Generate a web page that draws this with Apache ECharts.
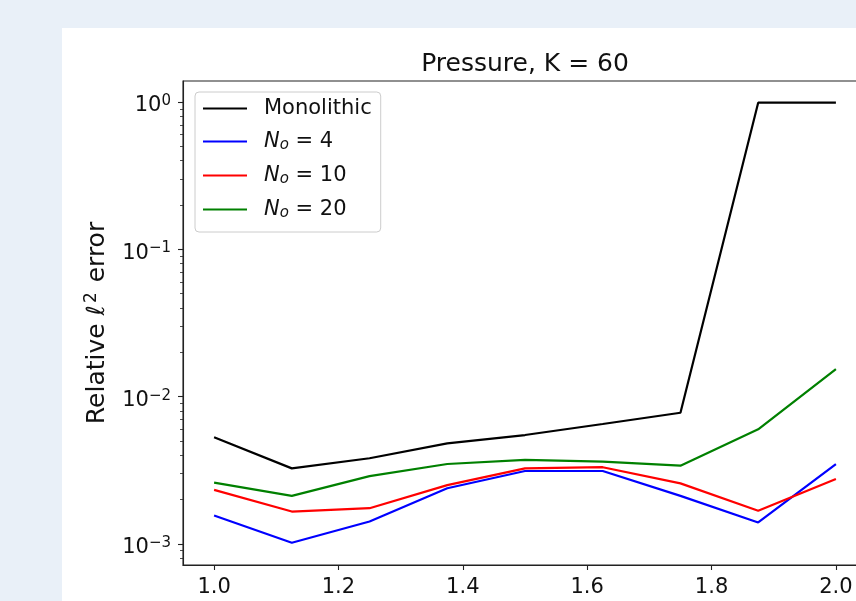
<!DOCTYPE html>
<html><head><meta charset="utf-8">
<script src="https://cdn.jsdelivr.net/npm/echarts@6/dist/echarts.min.js"></script>
<style>html,body{margin:0;padding:0;background:#e9f0f8;overflow:hidden}#c{width:856px;height:601px}</style>
</head><body><div id="c"></div>
<script>
// ---- data ----
const xValues = [1.0, 1.125, 1.25, 1.375, 1.5, 1.625, 1.75, 1.875, 2.0];
const monolithic = [0.00530, 0.00326, 0.00382, 0.00482, 0.00549, 0.00652, 0.00778, 0.99, 0.99];
const no4  = [0.00156, 0.00102, 0.00142, 0.00239, 0.00313, 0.00313, 0.00212, 0.00140, 0.00349];
const no10 = [0.00233, 0.00166, 0.00175, 0.00251, 0.00326, 0.00332, 0.00258, 0.00168, 0.00276];
const no20 = [0.00261, 0.00212, 0.00289, 0.00349, 0.00372, 0.00362, 0.00340, 0.00600, 0.0154];
const xTicks = [1.0, 1.2, 1.4, 1.6, 1.8, 2.0];
const yMajorTicks = [0.001, 0.01, 0.1, 1];
const yMinorTicks = [0.0008, 0.0009,
  0.002, 0.003, 0.004, 0.005, 0.006, 0.007, 0.008, 0.009,
  0.02, 0.03, 0.04, 0.05, 0.06, 0.07, 0.08, 0.09,
  0.2, 0.3, 0.4, 0.5, 0.6, 0.7, 0.8, 0.9];
const seriesNames = ['Monolithic', 'N_o = 4', 'N_o = 10', 'N_o = 20'];
const seriesColors = ['#000000', '#0000ff', '#ff0000', '#008000'];
const seriesValues = [monolithic, no4, no10, no20];

const FONT = 'DejaVu Sans';
const TXT = '#111';
const yMin = Math.pow(10, -3.1426), yMax = Math.pow(10, 0.1426);

const chart = echarts.init(document.getElementById('c'), null, {renderer: 'canvas'});
const legendRich = {
  n: {fontFamily: FONT, fontSize: 21, fontStyle: 'italic', color: TXT},
  o: {fontFamily: FONT, fontSize: 15, fontStyle: 'italic', color: TXT, padding: [8, 0, 0, 0]},
  t: {fontFamily: FONT, fontSize: 21, color: TXT}
};
chart.setOption({
  animation: false,
  graphic: [{type: 'rect', left: 62, top: 28, shape: {width: 900, height: 700}, style: {fill: '#ffffff'}, z: -10}],
  title: {
    text: 'Pressure, K = 60', left: 520, top: 47, textAlign: 'center',
    textStyle: {fontFamily: FONT, fontSize: 25, fontWeight: 'normal', color: TXT}
  },
  grid: {left: 183, top: 81, width: 684, height: 484, outerBoundsMode: 'none', containLabel: false,
    show: true, borderColor: '#222', borderWidth: 1.1, backgroundColor: 'transparent'},
  legend: {
    orient: 'vertical', left: 195, top: 92,
    data: seriesNames,
    itemWidth: 44, itemHeight: 23, itemGap: 12,
    padding: [6, 9, 11, 7],
    itemStyle: {opacity: 0},
    backgroundColor: 'rgba(255,255,255,0.8)', borderColor: '#cccccc', borderWidth: 1, borderRadius: 4,
    textStyle: {fontFamily: FONT, fontSize: 21, color: TXT, padding: [0, 0, 0, 12], rich: legendRich},
    formatter: name => {
      const m = name.match(/^N_o = (\d+)$/);
      return m ? '{n|N}{o|o}{t| = ' + m[1] + '}' : name;
    }
  },
  xAxis: {
    type: 'value', min: 0.95, max: 2.05,
    axisLine: {show: true, onZero: false, lineStyle: {color: '#222', width: 1.1}},
    axisTick: {show: true, customValues: xTicks, length: 5, lineStyle: {color: '#222', width: 1.1}},
    axisLabel: {customValues: xTicks, formatter: v => v.toFixed(1), fontFamily: FONT, fontSize: 21, color: TXT, margin: 12},
    splitLine: {show: false}
  },
  yAxis: [{
    type: 'log', logBase: 10, min: yMin, max: yMax,
    name: '{r|Relative }{l|\u2113}{s|2}{r| error}', nameLocation: 'middle', nameGap: 71,
    nameTextStyle: {fontFamily: FONT, fontSize: 25, color: TXT, rich: {
      r: {fontFamily: FONT, fontSize: 25, color: TXT},
      l: {fontFamily: FONT, fontSize: 25, fontStyle: 'italic', color: TXT, padding: [0, 2, 0, 0]},
      s: {fontFamily: FONT, fontSize: 17, color: TXT, padding: [0, 2, 12, 0]}
    }},
    axisLine: {show: true, onZero: false, lineStyle: {color: '#222', width: 1.1}},
    axisTick: {show: true, customValues: yMajorTicks, length: 5, lineStyle: {color: '#222', width: 1.1}},
    axisLabel: {
      customValues: yMajorTicks, margin: 12, padding: [8, 0, 0, 0],
      formatter: v => {
        const e = Math.round(Math.log10(v));
        return '{b|10}{s|' + (e < 0 ? '\u2212' + (-e) : e) + '}';
      },
      rich: {
        b: {fontFamily: FONT, fontSize: 21, color: TXT},
        s: {fontFamily: FONT, fontSize: 15, color: TXT, padding: [0, 0, 10, 0]}
      }
    },
    splitLine: {show: false}
  }, {
    type: 'log', logBase: 10, min: yMin, max: yMax, position: 'left',
    axisLine: {show: false},
    axisTick: {show: true, customValues: yMinorTicks, length: 3, lineStyle: {color: '#222', width: 0.8}},
    axisLabel: {show: false},
    splitLine: {show: false}
  }],
  series: seriesNames.map((name, i) => ({
    name: name, type: 'line', symbol: 'none', yAxisIndex: 0,
    data: xValues.map((x, j) => [x, seriesValues[i][j]]),
    lineStyle: {color: seriesColors[i], width: 2.2},
    itemStyle: {color: seriesColors[i]}
  }))
});
</script>
</body></html>
